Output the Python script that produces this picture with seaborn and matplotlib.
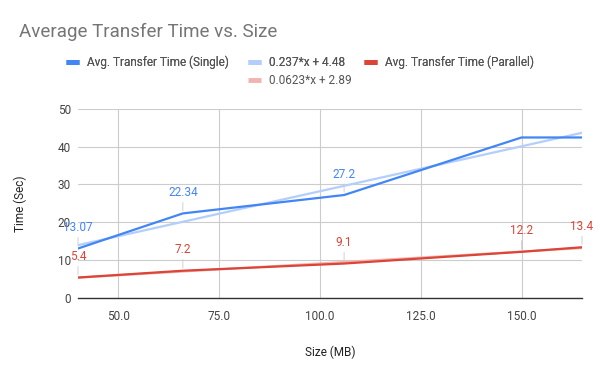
import matplotlib
matplotlib.use('Agg')
import matplotlib.pyplot as plt
from matplotlib.lines import Line2D
from matplotlib.ticker import FormatStrFormatter
import pandas as pd
import seaborn as sns

# data
sizes = [40, 66, 106, 150, 165]
single_times = [13.07, 22.34, 27.2, 42.4, 42.4]
parallel_times = [5.4, 7.2, 9.1, 12.2, 13.4]
single_shown = [True, True, True, False, False]
parallel_shown = [True, True, True, True, True]
series_names = ['Avg. Transfer Time (Single)', 'Avg. Transfer Time (Parallel)']
trend_names = ['0.237*x + 4.48', '0.0623*x + 2.89']

df = pd.DataFrame({'Size (MB)': sizes,
                   'single': single_times,
                   'parallel': parallel_times})

sns.set_style('white')
plt.rcParams['font.family'] = ['Roboto', 'DejaVu Sans']

blue, blue_trend = '#4285f4', '#b3cefb'
red, red_trend = '#db4437', '#f1b4af'

fig = plt.figure(figsize=(6, 3.71), dpi=100)
ax = fig.add_axes([0.13, 0.1968, 0.84, 0.5102])

# trendlines fitted by seaborn
sns.regplot(data=df, x='Size (MB)', y='single', scatter=False, ci=None, ax=ax,
            line_kws=dict(color=blue_trend, lw=1.6, zorder=2))
sns.regplot(data=df, x='Size (MB)', y='parallel', scatter=False, ci=None, ax=ax,
            line_kws=dict(color=red_trend, lw=1.6, zorder=2))

# the series themselves
sns.lineplot(data=df, x='Size (MB)', y='single', color=blue, lw=1.6, ax=ax, zorder=3)
sns.lineplot(data=df, x='Size (MB)', y='parallel', color=red, lw=1.6, ax=ax, zorder=3)

# data labels with small leader lines
for col, shown, c in [('single', single_shown, blue), ('parallel', parallel_shown, red)]:
    for x, y, s in zip(df['Size (MB)'], df[col], shown):
        if not s:
            continue
        ax.annotate('{:g}'.format(y), xy=(x, y), xytext=(0, 15), textcoords='offset points',
                    ha='center', va='center', fontsize=8.5, color=c, zorder=4,
                    arrowprops=dict(arrowstyle='-', color='#d0d0d0', lw=0.7,
                                    shrinkA=0, shrinkB=2))

ax.set_xlim(40, 165)
ax.set_ylim(0, 50)
ax.set_xticks([50, 75, 100, 125, 150])
ax.set_yticks(range(0, 51, 10))
ax.xaxis.set_major_formatter(FormatStrFormatter('%.1f'))
ax.grid(True, color='#cccccc', lw=0.8)
ax.set_axisbelow(True)
for side in ['top', 'right', 'left']:
    ax.spines[side].set_visible(False)
ax.spines['bottom'].set_color('#333333')
ax.spines['bottom'].set_linewidth(1.0)
ax.spines['bottom'].set_zorder(5)
ax.tick_params(axis='both', length=0, labelsize=8.5, labelcolor='#444444')
ax.tick_params(axis='x', pad=9)
ax.tick_params(axis='y', pad=5)
ax.set_xlabel('Size (MB)', fontsize=8.5, color='#222222', labelpad=16)
ax.set_ylabel('Time (Sec)', fontsize=8.5, color='#222222', labelpad=22)

fig.text(0.032, 0.913, 'Average Transfer Time vs. Size', fontsize=13.5, color='#757575',
         ha='left', va='center')

def handle(c):
    return Line2D([0], [0], color=c, lw=3.5, solid_capstyle='butt')

leg1 = fig.legend(handles=[handle(blue), handle(blue_trend), handle(red)],
                  labels=[series_names[0], trend_names[0], series_names[1]],
                  loc='center', bbox_to_anchor=(0.5, 0.833), ncol=3, frameon=False,
                  fontsize=8.5, handlelength=1.1, handletextpad=0.7, columnspacing=1.6,
                  labelcolor='#555555')
fig.add_artist(leg1)
fig.legend(handles=[handle(red_trend)], labels=[trend_names[1]],
           loc='center', bbox_to_anchor=(0.5, 0.782), frameon=False,
           fontsize=8.5, handlelength=1.1, handletextpad=0.7, labelcolor='#555555')

fig.savefig('out.png', dpi=100)
